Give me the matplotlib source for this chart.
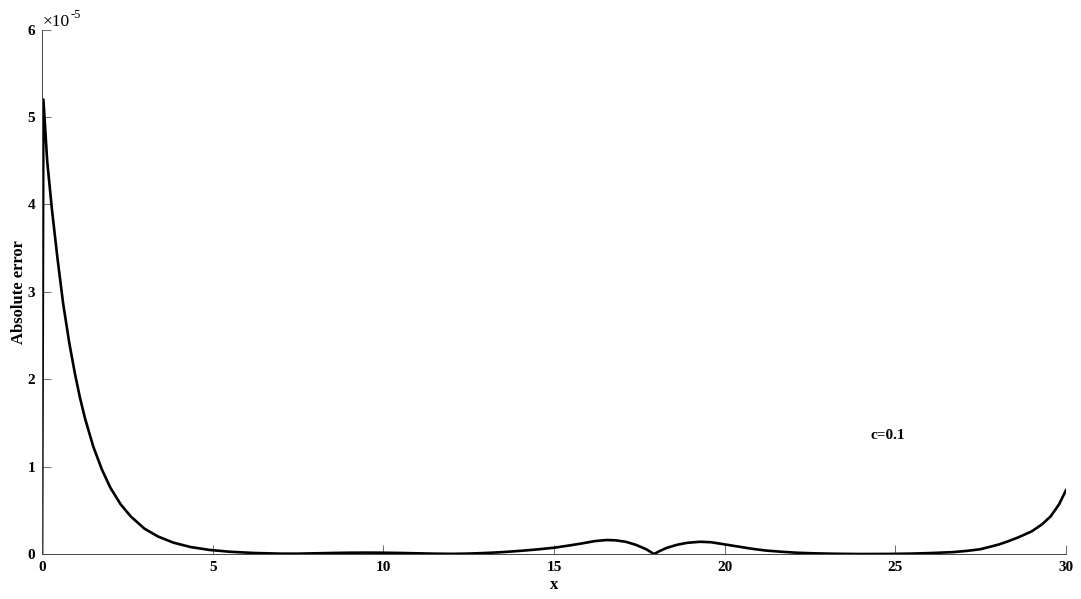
import matplotlib
matplotlib.use("Agg")
from matplotlib import pyplot as plt
import matplotlib.ticker as mticker

# curve (x, absolute error in units of 1e-5)
x_vals = [0.0, 0.04, 0.15, 0.29, 0.45, 0.62, 0.8, 0.97, 1.11, 1.26, 1.5,
          1.75, 2.0, 2.3, 2.6, 3.0, 3.4, 3.85, 4.35, 4.9, 5.5, 6.2, 7.0,
          7.5, 8.0, 8.5, 9.0, 9.5, 10.0, 10.5, 11.0, 11.5, 12.0, 12.5, 13.0,
          13.42, 13.8, 14.2, 14.6, 15.0, 15.4, 15.8, 16.2, 16.54, 16.8, 17.1,
          17.4, 17.7, 17.93, 18.1, 18.3, 18.6, 18.9, 19.28, 19.6, 20.0, 20.4,
          20.8, 21.2, 21.62, 22.1, 22.6, 23.2, 24.0, 24.8, 25.5, 26.1, 26.7,
          27.1, 27.48, 27.8, 28.04, 28.3, 28.6, 29.0, 29.3, 29.55, 29.8, 30.0]
err_e5 = [0.0, 5.20, 4.5, 3.94, 3.39, 2.86, 2.41, 2.05, 1.79, 1.55, 1.23,
          0.97, 0.76, 0.57, 0.43, 0.29, 0.20, 0.13, 0.08, 0.047, 0.026, 0.012,
          0.004, 0.004, 0.008, 0.012, 0.015, 0.016, 0.015, 0.012, 0.008, 0.004,
          0.002, 0.005, 0.012, 0.02, 0.03, 0.042, 0.056, 0.072, 0.095, 0.12,
          0.148, 0.16, 0.157, 0.14, 0.105, 0.055, 0.0, 0.035, 0.07, 0.105,
          0.128, 0.14, 0.135, 0.11, 0.085, 0.06, 0.04, 0.027, 0.015, 0.008,
          0.003, 0.0, 0.001, 0.005, 0.012, 0.022, 0.036, 0.054, 0.085, 0.11,
          0.145, 0.19, 0.26, 0.34, 0.43, 0.57, 0.73]
err_vals = [v * 1e-5 for v in err_e5]

x_ticks = [0, 5, 10, 15, 20, 25, 30]
y_ticks = [0, 1e-5, 2e-5, 3e-5, 4e-5, 5e-5, 6e-5]

plt.rcParams['font.family'] = ['Liberation Serif', 'DejaVu Serif']
plt.rcParams['font.weight'] = 'bold'

fig = plt.figure(figsize=(10.81, 5.99), dpi=100)
ax = fig.add_axes([0.0389, 0.0751, 0.9472, 0.8755])

ax.plot(x_vals, err_vals, color='black', lw=1.9)

ax.set_xlim(0, 30)
ax.set_ylim(0, 6e-5)
ax.set_xticks(x_ticks)
ax.set_yticks(y_ticks)
ax.yaxis.set_major_formatter(mticker.FuncFormatter(lambda v, pos: f'{v * 1e5:.0f}'))
ax.tick_params(direction='in', length=6.5, width=0.6, color='#555555',
               labelsize=11, pad=5)
for lab in ax.get_xticklabels() + ax.get_yticklabels():
    lab.set_fontweight('bold')

for side in ['top', 'right']:
    ax.spines[side].set_visible(False)
for side in ['left', 'bottom']:
    ax.spines[side].set_linewidth(0.7)
    ax.spines[side].set_color('#444444')

# exponent label like MATLAB's
ax.text(0.001, 1.007, '\u00d710', transform=ax.transAxes,
        fontsize=12.5, ha='left', va='baseline', fontweight='normal')
ax.text(0.0283, 1.023, '-5', transform=ax.transAxes,
        fontsize=9, ha='left', va='baseline', fontweight='normal')

ax.text(24.26, 1.36e-5, 'c=0.1', fontsize=11, fontweight='bold',
        ha='left', va='center')

ax.set_xlabel('x', fontsize=12, fontweight='bold', labelpad=2)
ax.set_ylabel('Absolute error', fontsize=12, fontweight='bold', labelpad=0.5)

fig.savefig('out.png', dpi=100)
